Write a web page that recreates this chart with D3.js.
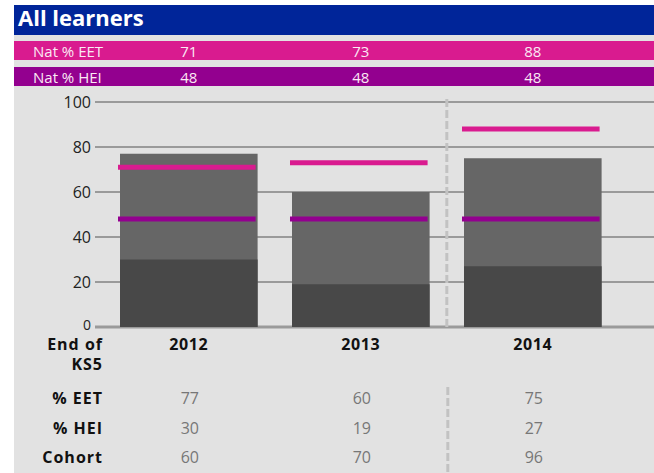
<!DOCTYPE html>
<html lang="en">
<head>
    <meta charset="UTF-8">
    <title>All learners</title>
    <script src="https://d3js.org/d3.v7.min.js"></script>
    <style>
        body {
            margin: 0;
            background: #fff;
            font-family: "Open Sans", Arial, sans-serif;
        }
    </style>
</head>
<body>
    <script>
        // Data
        const years = ["2012", "2013", "2014"];
        const natEET = [71, 73, 88];
        const natHEI = [48, 48, 48];
        const pctEET = [77, 60, 75];
        const pctHEI = [30, 19, 27];
        const cohort = [60, 70, 96];
        const yTicks = [0, 20, 40, 60, 80, 100];

        const width = 654, height = 473;

        const svg = d3.select("body")
            .append("svg")
            .attr("width", width)
            .attr("height", height);

        // Grey panel and header bands
        svg.append("rect").attr("x", 14).attr("y", 5)
            .attr("width", width - 14).attr("height", height - 5)
            .attr("fill", "#e2e2e2");
        svg.append("rect").attr("x", 14).attr("y", 5)
            .attr("width", width - 14).attr("height", 30)
            .attr("fill", "#002599");
        svg.append("text").attr("x", 18).attr("y", 26)
            .text("All learners")
            .attr("fill", "#fff")
            .style("font-size", "22px")
            .style("font-weight", "bold");

        const x = d3.scaleBand()
            .domain(years)
            .range([102.8, 618.8])
            .paddingInner(0.2)
            .paddingOuter(0.1);

        const y = d3.scaleLinear()
            .domain([0, 100])
            .range([327, 102]);

        const mid = d => x(d) + x.bandwidth() / 2;

        // National rows
        const natRows = [
            { label: "Nat % EET", values: natEET, color: "#d91b8f", top: 41 },
            { label: "Nat % HEI", values: natHEI, color: "#93008f", top: 67 }
        ];
        natRows.forEach(r => {
            svg.append("rect").attr("x", 14).attr("y", r.top)
                .attr("width", width - 14).attr("height", 19)
                .attr("fill", r.color);
            svg.append("text").attr("x", 33).attr("y", r.top + 16)
                .text(r.label)
                .attr("fill", "#fbe9f4")
                .style("font-size", "15px");
            svg.selectAll(null)
                .data(years)
                .enter()
                .append("text")
                .attr("x", d => mid(d))
                .attr("y", r.top + 16)
                .attr("text-anchor", "middle")
                .attr("fill", "#fbe9f4")
                .style("font-size", "15px")
                .text((d, i) => r.values[i]);
        });

        // Gridlines and y labels
        svg.selectAll(".grid")
            .data(yTicks)
            .enter()
            .append("line")
            .attr("x1", 95).attr("x2", width)
            .attr("y1", d => y(d)).attr("y2", d => y(d))
            .attr("stroke", "#9a9a9a")
            .attr("stroke-width", d => d === 0 ? 3 : 2.2);

        svg.selectAll(".ylab")
            .data(yTicks)
            .enter()
            .append("text")
            .attr("x", 91)
            .attr("y", d => y(d))
            .attr("dy", d => d === 0 ? "0.2em" : "0.35em")
            .attr("text-anchor", "end")
            .attr("fill", "#222")
            .style("font-size", d => d === 0 ? "14px" : "16px")
            .text(d => d);

        // Dashed separator between 2013 and 2014
        const sepX = (x("2013") + x.bandwidth() + x("2014")) / 2;
        svg.append("line")
            .attr("x1", sepX).attr("x2", sepX)
            .attr("y1", 99).attr("y2", y(0))
            .attr("stroke", "#c2c2c2")
            .attr("stroke-width", 3)
            .attr("stroke-dasharray", "8,3");
        svg.append("line")
            .attr("x1", sepX + 1).attr("x2", sepX + 1)
            .attr("y1", 387).attr("y2", height)
            .attr("stroke", "#c2c2c2")
            .attr("stroke-width", 3)
            .attr("stroke-dasharray", "8,3");

        // Bars: % EET total, % HEI lower part
        svg.selectAll(".eet")
            .data(years)
            .enter()
            .append("rect")
            .attr("x", d => x(d))
            .attr("width", x.bandwidth())
            .attr("y", (d, i) => y(pctEET[i]))
            .attr("height", (d, i) => y(0) - y(pctEET[i]))
            .attr("fill", "#666666");

        svg.selectAll(".hei")
            .data(years)
            .enter()
            .append("rect")
            .attr("x", d => x(d))
            .attr("width", x.bandwidth())
            .attr("y", (d, i) => y(pctHEI[i]))
            .attr("height", (d, i) => y(0) - y(pctHEI[i]))
            .attr("fill", "#484848");

        // National reference lines
        natRows.forEach(r => {
            svg.selectAll(null)
                .data(years)
                .enter()
                .append("line")
                .attr("x1", d => x(d) - 2)
                .attr("x2", d => x(d) + x.bandwidth() - 2)
                .attr("y1", (d, i) => y(r.values[i]))
                .attr("y2", (d, i) => y(r.values[i]))
                .attr("stroke", r.color)
                .attr("stroke-width", 5);
        });

        // Table below the chart
        const boldLabel = (txt, yy) => svg.append("text")
            .attr("x", 103).attr("y", yy)
            .attr("text-anchor", "end")
            .attr("fill", "#111")
            .style("font-size", "16px")
            .style("font-weight", "bold")
            .style("letter-spacing", "1px")
            .text(txt);

        boldLabel("End of", 350);
        boldLabel("KS5", 370);

        svg.selectAll(".year")
            .data(years)
            .enter()
            .append("text")
            .attr("x", d => mid(d))
            .attr("y", 350)
            .attr("text-anchor", "middle")
            .attr("fill", "#111")
            .style("font-size", "16px")
            .style("font-weight", "bold")
            .style("letter-spacing", "0.6px")
            .text(d => d);

        const tableRows = [
            { label: "% EET", values: pctEET, y: 404 },
            { label: "% HEI", values: pctHEI, y: 434 },
            { label: "Cohort", values: cohort, y: 463 }
        ];
        tableRows.forEach(r => {
            boldLabel(r.label, r.y);
            svg.selectAll(null)
                .data(years)
                .enter()
                .append("text")
                .attr("x", d => mid(d) + 1)
                .attr("y", r.y)
                .attr("text-anchor", "middle")
                .attr("fill", "#777")
                .style("font-size", "16px")
                .text((d, i) => r.values[i]);
        });
    </script>
</body>
</html>
